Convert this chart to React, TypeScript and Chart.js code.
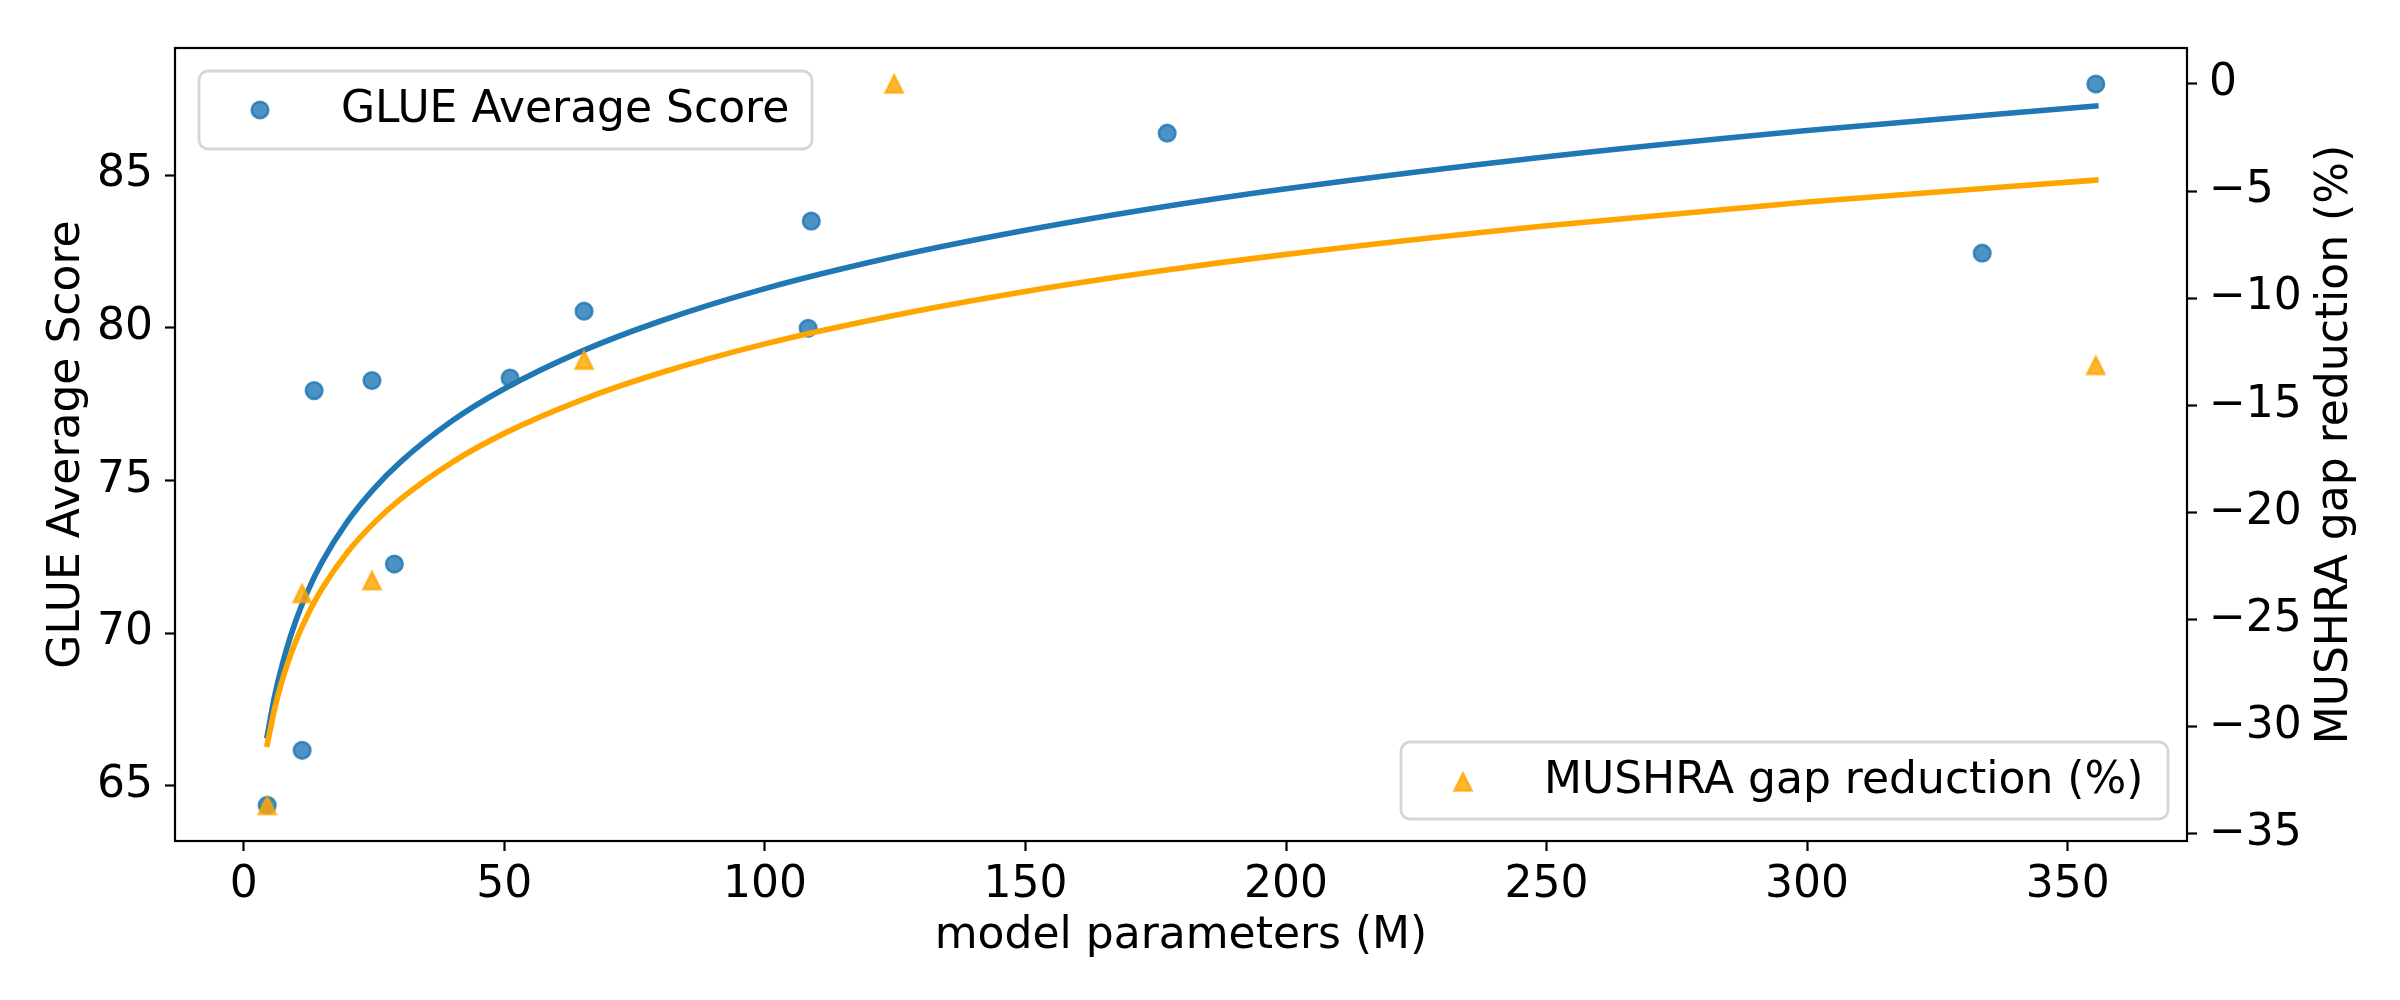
import React, { useEffect, useRef } from 'react';
import { Chart, registerables } from 'chart.js';

Chart.register(...registerables);

const glueParams = [4.5, 11.2, 13.5, 24.6, 28.9, 51.1, 65.3, 108.3, 108.9, 177.2, 333.6, 355.4];
const glueScores = [64.36, 66.16, 77.94, 78.27, 72.26, 78.35, 80.54, 79.98, 83.49, 86.37, 82.44, 87.98];

const mushraParams = [4.5, 11.2, 24.6, 65.3, 124.8, 355.4];
const mushraGap = [-33.7, -23.8, -23.2, -12.9, 0.0, -13.15];

// fitted curves
const fitParams = [4.5, 6, 8, 10, 12, 15, 20, 25, 30, 40, 50, 65, 80, 100, 125, 150, 175, 200, 250, 300, 355.4];
const glueFit = [66.64, 68.0, 69.35, 70.41, 71.27, 72.32, 73.68, 74.73, 75.59, 76.95, 78.0, 79.24, 80.22, 81.28, 82.33, 83.19, 83.92, 84.55, 85.6, 86.46, 87.26];
const mushraFit = [-30.84, -29.1, -27.37, -26.02, -24.93, -23.58, -21.84, -20.5, -19.4, -17.67, -16.32, -14.74, -13.49, -12.14, -10.8, -9.69, -8.76, -7.96, -6.62, -5.51, -4.49];

const xTicks = [0, 50, 100, 150, 200, 250, 300, 350];
const glueTicks = [65, 70, 75, 80, 85];
const mushraTicks = [0, -5, -10, -15, -20, -25, -30, -35];

const BLUE = '#1f77b4';
const BLUE_A = 'rgba(31,119,180,0.8)';
const ORANGE = '#ffa500';
const ORANGE_A = 'rgba(255,165,0,0.8)';
const FONT = '"DejaVu Sans"';

function makeTriangle() {
  const c = document.createElement('canvas');
  c.width = 26;
  c.height = 26;
  const g = c.getContext('2d')!;
  const h = 8.4;
  g.beginPath();
  g.moveTo(13, 13 - h);
  g.lineTo(13 - h, 13 + h);
  g.lineTo(13 + h, 13 + h);
  g.closePath();
  g.fillStyle = ORANGE_A;
  g.fill();
  g.lineWidth = 2.6;
  g.strokeStyle = ORANGE_A;
  g.stroke();
  return c;
}

function legendBox(ctx: CanvasRenderingContext2D, x: number, y: number, w: number, h: number) {
  ctx.beginPath();
  ctx.roundRect(x, y, w, h, 9);
  ctx.fillStyle = 'rgba(255,255,255,0.8)';
  ctx.fill();
  ctx.lineWidth = 2.8;
  ctx.strokeStyle = '#d6d6d6';
  ctx.stroke();
}

const App = () => {
  const canvasRef = useRef<HTMLCanvasElement>(null);

  useEffect(() => {
    if (!canvasRef.current) return;
    const tri = makeTriangle();

    const frame = {
      id: 'frame',
      afterDatasetsDraw(chart: any) {
        const { ctx, chartArea: a } = chart;
        ctx.save();
        ctx.lineWidth = 2.2;
        ctx.strokeStyle = '#000';
        ctx.strokeRect(a.left, a.top, a.right - a.left, a.bottom - a.top);

        // legends
        ctx.font = `44px ${FONT}`;
        ctx.textAlign = 'left';
        ctx.textBaseline = 'alphabetic';
        const l1x = a.left + 24;
        const l1y = a.top + 23;
        legendBox(ctx, l1x, l1y, 613, 78);
        ctx.beginPath();
        ctx.arc(l1x + 61, l1y + 39, 8.3, 0, Math.PI * 2);
        ctx.fillStyle = BLUE_A;
        ctx.fill();
        ctx.lineWidth = 2.6;
        ctx.strokeStyle = BLUE_A;
        ctx.stroke();
        ctx.fillStyle = '#000';
        ctx.fillText('GLUE Average Score', l1x + 142, l1y + 51);

        const l2w = 767;
        const l2h = 77;
        const l2x = a.right - 19 - l2w;
        const l2y = a.bottom - 22 - l2h;
        legendBox(ctx, l2x, l2y, l2w, l2h);
        ctx.drawImage(tri, l2x + 62 - tri.width / 2, l2y + 40 - tri.height / 2);
        ctx.fillStyle = '#000';
        ctx.fillText('MUSHRA gap reduction (%)', l2x + 143, l2y + 51);

        // axis titles
        const midY = (a.top + a.bottom) / 2;
        ctx.textAlign = 'center';
        ctx.fillText('model parameters (M)', (a.left + a.right) / 2, a.bottom + 107);
        ctx.save();
        ctx.translate(a.left - 96, midY);
        ctx.rotate(-Math.PI / 2);
        ctx.fillText('GLUE Average Score', 0, 0);
        ctx.restore();
        ctx.save();
        ctx.translate(a.right + 160, midY);
        ctx.rotate(-Math.PI / 2);
        ctx.fillText('MUSHRA gap reduction (%)', 0, 0);
        ctx.restore();
        ctx.restore();
      },
    };

    const tickFont = { family: FONT, size: 44 };
    const grid = {
      display: true,
      drawOnChartArea: false,
      drawTicks: true,
      tickLength: 10,
      tickColor: '#000',
      tickWidth: 2.2,
    };

    const chart = new Chart(canvasRef.current, {
      type: 'scatter',
      data: {
        datasets: [
          {
            type: 'line',
            label: 'MUSHRA fit',
            data: fitParams.map((x, i) => ({ x, y: mushraFit[i] })),
            yAxisID: 'y1',
            borderColor: ORANGE,
            borderWidth: 5.6,
            borderCapStyle: 'square',
            pointRadius: 0,
            cubicInterpolationMode: 'monotone',
            order: 1,
          },
          {
            label: 'MUSHRA gap reduction (%)',
            data: mushraParams.map((x, i) => ({ x, y: mushraGap[i] })),
            yAxisID: 'y1',
            pointStyle: tri,
            pointRadius: 10,
            order: 2,
          },
          {
            type: 'line',
            label: 'GLUE fit',
            data: fitParams.map((x, i) => ({ x, y: glueFit[i] })),
            yAxisID: 'y',
            borderColor: BLUE,
            borderWidth: 5.6,
            borderCapStyle: 'square',
            pointRadius: 0,
            cubicInterpolationMode: 'monotone',
            order: 3,
          },
          {
            label: 'GLUE Average Score',
            data: glueParams.map((x, i) => ({ x, y: glueScores[i] })),
            yAxisID: 'y',
            pointStyle: 'circle',
            pointRadius: 8.3,
            borderWidth: 2.6,
            backgroundColor: BLUE_A,
            borderColor: BLUE_A,
            order: 4,
          },
        ],
      } as any,
      options: {
        animation: false,
        responsive: false,
        devicePixelRatio: 1,
        events: [],
        layout: { padding: { top: 48, left: 0, right: 0, bottom: 0 } },
        plugins: { legend: { display: false }, tooltip: { enabled: false } },
        scales: {
          x: {
            type: 'linear',
            position: 'bottom',
            min: -13.2,
            max: 372.9,
            grid,
            border: { display: false },
            afterBuildTicks: (s: any) => { s.ticks = xTicks.map((v) => ({ value: v })); },
            afterFit: (s: any) => { s.height = 159; },
            ticks: { font: tickFont, color: '#000', padding: 8, maxRotation: 0 },
          },
          y: {
            type: 'linear',
            position: 'left',
            min: 63.19,
            max: 89.16,
            grid,
            border: { display: false },
            afterBuildTicks: (s: any) => { s.ticks = glueTicks.map((v) => ({ value: v })); },
            afterFit: (s: any) => { s.width = 175; },
            ticks: { font: tickFont, color: '#000', padding: 12 },
          },
          y1: {
            type: 'linear',
            position: 'right',
            min: -35.36,
            max: 1.68,
            grid,
            border: { display: false },
            afterBuildTicks: (s: any) => { s.ticks = mushraTicks.map((v) => ({ value: v })); },
            afterFit: (s: any) => { s.width = 213; },
            ticks: {
              font: tickFont,
              color: '#000',
              padding: 12,
              callback: (v: any) => String(v).replace('-', '\u2212'),
            },
          },
        },
      } as any,
      plugins: [frame],
    });

    return () => {
      chart.destroy();
    };
  }, []);

  return (
    <div style={{ position: 'fixed', left: 0, top: 0, width: 2400, height: 1000, background: '#fff' }}>
      <canvas ref={canvasRef} width={2400} height={1000} />
    </div>
  );
};

export default App;
